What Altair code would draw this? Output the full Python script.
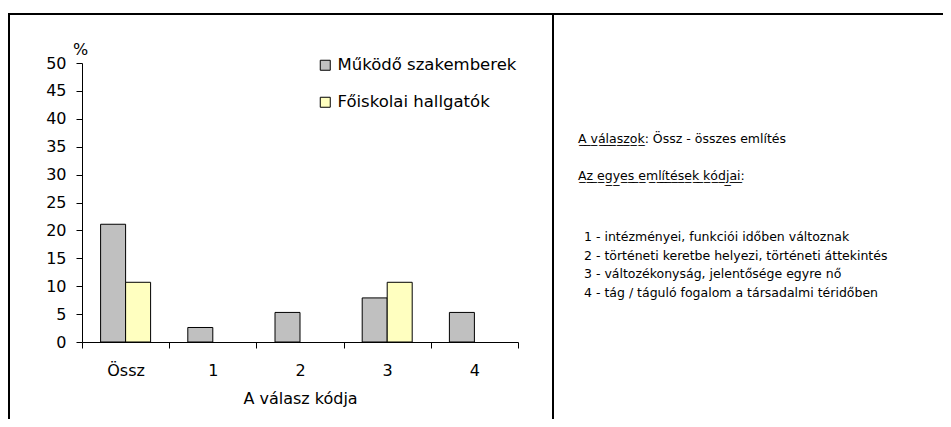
import altair as alt
import pandas as pd

categories = ["Össz", "1", "2", "3", "4"]
series = ["Működő szakemberek", "Főiskolai hallgatók"]
szakemberek = [21.1, 2.6, 5.3, 7.9, 5.3]
hallgatok = [10.7, 0.0, 0.0, 10.7, 0.0]
colors = ["#C0C0C0", "#FFFFC0"]
y_ticks = list(range(0, 55, 5))


def underline(s):
    return "".join(ch + "\u0332" for ch in s)


note_lines = [
    underline("A válaszok") + ": Össz - összes említés",
    underline("Az egyes említések kódjai") + ":",
]
code_lines = [
    "1 - intézményei, funkciói időben változnak",
    "2 - történeti keretbe helyezi, történeti áttekintés",
    "3 - változékonyság, jelentősége egyre nő",
    "4 - tág / táguló fogalom a társadalmi téridőben",
]

rows = []
for i, c in enumerate(categories):
    rows.append({"kod": c, "sorozat": series[0], "ertek": szakemberek[i]})
    rows.append({"kod": c, "sorozat": series[1], "ertek": hallgatok[i]})
df = pd.DataFrame(rows)

FONT = "DejaVu Sans"

bars = alt.Chart(df).transform_filter("datum.ertek > 0").mark_bar(
    stroke="black", strokeWidth=1
).encode(
    x=alt.X(
        "kod:N",
        sort=categories,
        scale=alt.Scale(domain=categories, paddingInner=0, paddingOuter=0),
        axis=alt.Axis(
            title="A válasz kódja",
            labelAngle=0,
            tickBand="extent",
            tickSize=6,
            labelPadding=22,
            labelBaseline="middle",
            titleY=56,
            titleBaseline="middle",
        ),
    ),
    xOffset=alt.XOffset(
        "sorozat:N",
        sort=series,
        scale=alt.Scale(domain=series, paddingInner=0, paddingOuter=0.744),
    ),
    y=alt.Y(
        "ertek:Q",
        scale=alt.Scale(domain=[0, 50], nice=False),
        axis=alt.Axis(
            values=y_ticks,
            title="%",
            titleAngle=0,
            titleX=-2,
            titleY=-14,
            titleAlign="center",
            titleBaseline="middle",
            tickSize=6,
            labelPadding=10,
            grid=False,
        ),
    ),
    color=alt.Color(
        "sorozat:N",
        scale=alt.Scale(domain=series, range=colors),
        legend=alt.Legend(
            title=None,
            orient="none",
            legendX=235,
            legendY=-6,
            padding=0,
            symbolType="square",
            symbolSize=100,
            symbolStrokeColor="black",
            symbolStrokeWidth=1,
            labelFontSize=16.5,
            labelFont=FONT,
            labelColor="black",
            labelOffset=4,
            labelLimit=0,
            rowPadding=20,
        ),
    ),
)

one = pd.DataFrame({"a": [0]})

frame_top = alt.Chart(one).mark_rule(color="black", strokeWidth=2).encode(
    x=alt.value(-74), x2=alt.value(880), y=alt.value(-49)
)
frame_left = alt.Chart(one).mark_rule(color="black", strokeWidth=2).encode(
    x=alt.value(-73), y=alt.value(-50), y2=alt.value(380)
)
divider = alt.Chart(one).mark_rule(color="black", strokeWidth=2).encode(
    x=alt.value(471), y=alt.value(-50), y2=alt.value(380)
)

notes = alt.Chart(pd.DataFrame({"t": ["\n".join(note_lines)]})).mark_text(
    align="left", baseline="middle", font=FONT, fontSize=12.5, color="black",
    lineBreak="\n", lineHeight=37
).encode(x=alt.value(496), y=alt.value(76), text="t:N")

codes = alt.Chart(pd.DataFrame({"t": ["\n".join(code_lines)]})).mark_text(
    align="left", baseline="middle", font=FONT, fontSize=12.5, color="black",
    lineBreak="\n", lineHeight=18.7
).encode(x=alt.value(502), y=alt.value(174), text="t:N")

chart = alt.layer(bars, frame_top, frame_left, divider, notes, codes).properties(
    width=436,
    height=279,
    autosize=alt.AutoSizeParams(type="none"),
    padding={"left": 74, "top": 55, "right": 425, "bottom": 77},
).configure(
    font=FONT,
).configure_axis(
    labelFont=FONT,
    titleFont=FONT,
    labelFontSize=16,
    titleFontSize=16,
    labelColor="black",
    titleColor="black",
    titleFontWeight="normal",
    domainColor="black",
    tickColor="black",
    domainWidth=1,
    tickWidth=1,
).configure_view(strokeWidth=0)

chart.save("out.html", embed_options={"renderer": "svg", "actions": False})
